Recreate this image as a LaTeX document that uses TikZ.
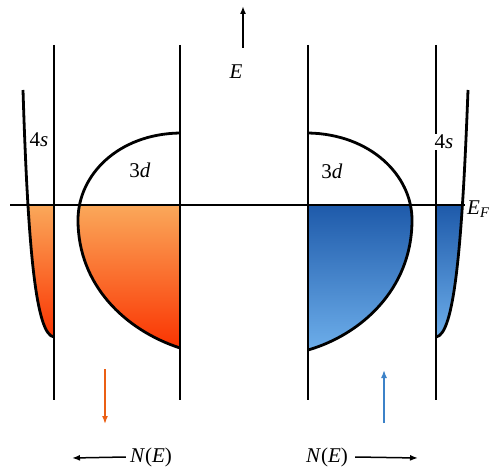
\documentclass[tikz,border=0pt]{standalone}
\usepackage{fontspec}
\setmainfont{Liberation Serif}
\usetikzlibrary{arrows.meta}
\definecolor{fillorangetop}{RGB}{250,168,90}
\definecolor{fillorangemid}{RGB}{255,125,25}
\definecolor{fillorangebot}{RGB}{250,50,0}
\definecolor{fillbluetop}{RGB}{30,90,170}
\definecolor{fillbluemid}{RGB}{55,125,200}
\definecolor{fillbluebot}{RGB}{110,175,235}
\definecolor{arroworange}{RGB}{235,95,20}
\definecolor{arrowblue}{RGB}{60,130,200}
\tikzset{
  band/.style={line width=1.4pt, draw=black},
  dos/.style={line width=2.8pt, draw=black},
  lbl/.style={font=\fontsize{21}{24}\selectfont, inner sep=1pt},
  tip/.style={-{Latex[length=8pt,width=6pt]}}
}

\begin{document}
\begin{tikzpicture}[x=1pt,y=-1pt]
\useasboundingbox (0,0) rectangle (490,470);

% filled parts below the Fermi level
\begin{scope}
\clip (0,205) rectangle (490,470);
\begin{scope}
\clip (23,90) .. controls (28,250) and (36,335) .. (54,337) -- (54,90) -- cycle;
\shade[top color=fillorangetop, middle color=fillorangemid, bottom color=fillorangebot] (20,205) rectangle (56,340);
\end{scope}
\begin{scope}
\clip (180,133) .. controls (118,134) and (78,175) .. (78,220) .. controls (78,285) and (125,330) .. (180,348) -- cycle;
\shade[top color=fillorangetop, middle color=fillorangemid, bottom color=fillorangebot] (75,205) rectangle (182,350);
\end{scope}
\begin{scope}
\clip (308,133) .. controls (370,134) and (412,175) .. (412,220) .. controls (412,290) and (360,335) .. (308,350) -- cycle;
\shade[top color=fillbluetop, middle color=fillbluemid, bottom color=fillbluebot] (306,205) rectangle (415,352);
\end{scope}
\begin{scope}
\clip (468,90) .. controls (462,250) and (454,335) .. (436,337) -- (436,90) -- cycle;
\shade[top color=fillbluetop, middle color=fillbluemid, bottom color=fillbluebot] (434,205) rectangle (470,340);
\end{scope}
\end{scope}

% band edges
\draw[band] (54,45) -- (54,400);
\draw[band] (180,45) -- (180,400);
\draw[band] (308,45) -- (308,400);
\draw[band] (436,45) -- (436,400);

% Fermi level
\draw[line width=2.4pt] (10,205) -- (465,205);

% density of states
\draw[dos] (23,90) .. controls (28,250) and (36,335) .. (54,337);
\draw[dos] (180,133) .. controls (118,134) and (78,175) .. (78,220) .. controls (78,285) and (125,330) .. (180,348);
\draw[dos] (308,133) .. controls (370,134) and (412,175) .. (412,220) .. controls (412,290) and (360,335) .. (308,350);
\draw[dos] (468,90) .. controls (462,250) and (454,335) .. (436,337);

% labels
\node[lbl, fill=white] (sleft) at (39,140) {4\textit{s}};
\node[lbl] (dleft) at (140,170) {3\textit{d}};
\node[lbl] (dright) at (332,171) {3\textit{d}};
\node[lbl, fill=white] (sright) at (444,142) {4\textit{s}};
\node[lbl] (elabel) at (236,72) {\textit{E}};
\node[lbl, anchor=west, inner sep=0pt] (fermi) at (467,209) {\textit{E}\textsubscript{\textit{F}}};
\node[lbl] (nleft) at (151,457) {\textit{N}(\textit{E})};
\node[lbl] (nright) at (327,457) {\textit{N}(\textit{E})};

% arrows
\coordinate (etop) at (243,6);
\coordinate (ebot) at (243,48);
\draw[tip, line width=1.8pt] (ebot) -- (etop);
\coordinate (downtop) at (105,369);
\coordinate (downbot) at (105,424);
\draw[tip, line width=1.5pt, arroworange] (downtop) -- (downbot);
\coordinate (uptop) at (384,370);
\coordinate (upbot) at (384,423);
\draw[tip, line width=1.5pt, arrowblue] (upbot) -- (uptop);
\coordinate (nleftend) at (72,458);
\draw[tip, line width=1.5pt] (nleft.west) ++(-3,0) -- (nleftend);
\coordinate (nrightend) at (418,458);
\draw[tip, line width=1.5pt] (nright.east) ++(6,0) -- (nrightend);
\end{tikzpicture}
\end{document}
